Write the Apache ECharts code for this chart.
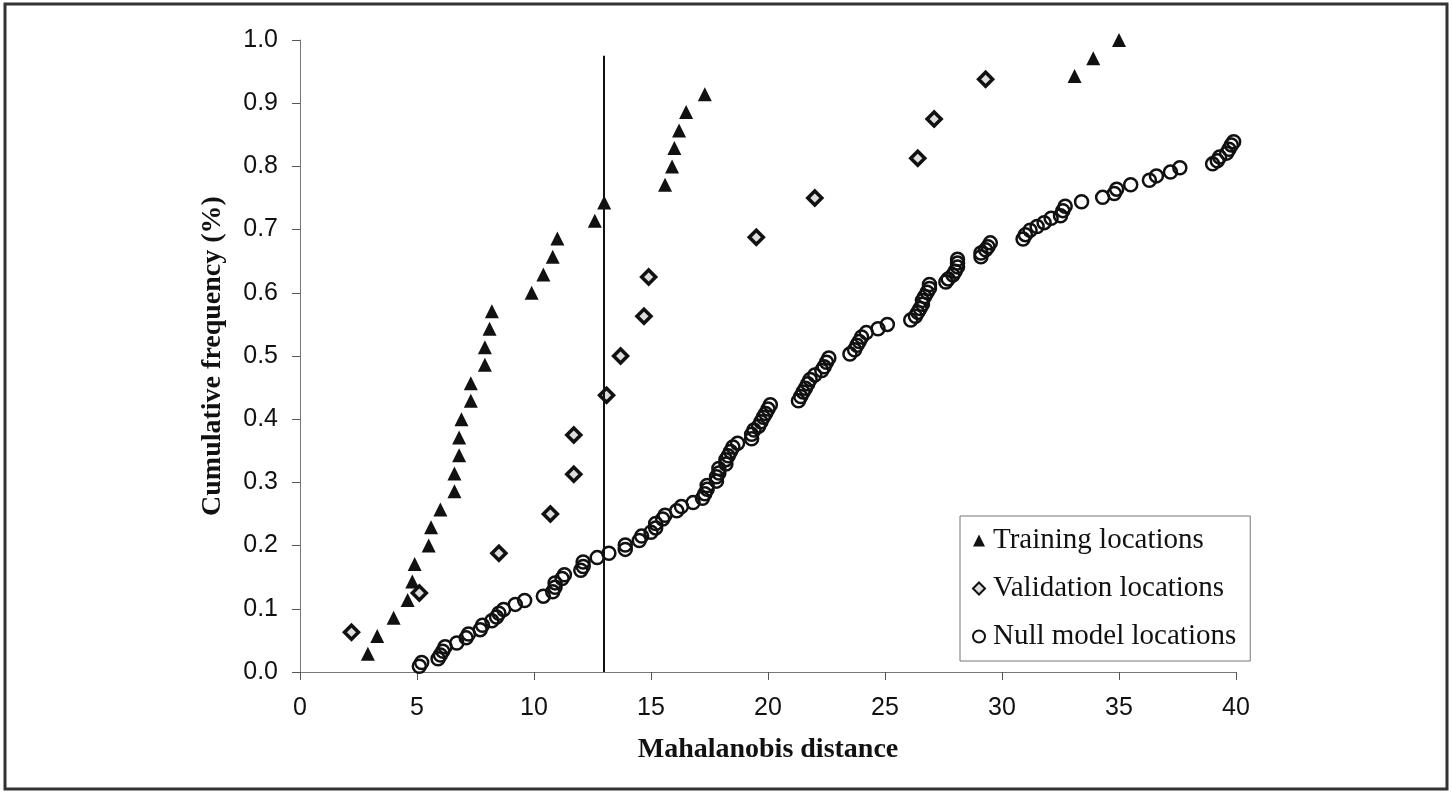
<!DOCTYPE html>
<html>
<head>
<meta charset="utf-8">
<script src="https://cdn.jsdelivr.net/npm/echarts@6/dist/echarts.min.js"></script>
<style>
  html, body { margin: 0; padding: 0; background: #fff; }
  #main { width: 1452px; height: 792px; }
</style>
</head>
<body>
<div id="main"></div>
<script>
// Training locations (triangles)
const trainingX = [2.9, 3.3, 4.0, 4.6, 4.8, 4.9, 5.5, 5.6, 6.0, 6.6, 6.6, 6.8, 6.8, 6.9, 7.3, 7.3, 7.9, 7.9, 8.1, 8.2,
  9.9, 10.4, 10.8, 11.0, 12.6, 13.0, 15.6, 15.9, 16.0, 16.2, 16.5, 17.3, 33.1, 33.9, 35.0];
const trainingY = [0.029, 0.057, 0.086, 0.114, 0.143, 0.171, 0.2, 0.229, 0.257, 0.286, 0.314, 0.343, 0.371, 0.4,
  0.429, 0.457, 0.486, 0.514, 0.543, 0.571, 0.6, 0.629, 0.657, 0.686, 0.714, 0.743, 0.771, 0.8, 0.829, 0.857,
  0.886, 0.914, 0.943, 0.971, 1.0];

// Validation locations (diamonds)
const validationX = [2.2, 5.1, 8.5, 10.7, 11.7, 11.7, 13.1, 13.7, 14.7, 14.9, 19.5, 22.0, 26.4, 27.1, 29.3];
const validationY = [0.063, 0.125, 0.188, 0.25, 0.313, 0.375, 0.438, 0.5, 0.563, 0.625, 0.688, 0.75, 0.813, 0.875, 0.938];

// Null model locations (open circles)
const nullX = [5.1, 5.2, 5.9, 6.0, 6.1, 6.2, 6.7, 7.1, 7.2, 7.7, 7.8, 8.2, 8.4, 8.5, 8.7, 9.2, 9.6, 10.4, 10.8, 10.9,
  10.9, 11.2, 11.3, 12.0, 12.1, 12.1, 12.7, 13.2, 13.9, 13.9, 14.5, 14.6, 15.0, 15.2, 15.2, 15.5, 15.6, 16.1, 16.3, 16.8,
  17.2, 17.3, 17.4, 17.4, 17.8, 17.8, 17.9, 17.9, 18.2, 18.2, 18.3, 18.4, 18.5, 18.7, 19.3, 19.3, 19.4, 19.6, 19.7, 19.8,
  19.9, 20.0, 20.1, 21.3, 21.4, 21.5, 21.6, 21.7, 21.8, 22.0, 22.3, 22.4, 22.5, 22.6, 23.5, 23.7, 23.8, 23.9, 24.0, 24.2,
  24.7, 25.1, 26.1, 26.3, 26.4, 26.5, 26.6, 26.6, 26.7, 26.8, 26.9, 26.9, 27.6, 27.7, 27.9, 28.0, 28.1, 28.1, 28.1, 29.1,
  29.1, 29.3, 29.4, 29.5, 30.9, 31.0, 31.2, 31.5, 31.8, 32.1, 32.5, 32.6, 32.7, 33.4, 34.3, 34.8, 34.9, 35.5, 36.3, 36.6,
  37.2, 37.6, 39.0, 39.2, 39.3, 39.6, 39.7, 39.8, 39.9];
const nullY = [0.009, 0.015, 0.021, 0.027, 0.033, 0.040, 0.046, 0.054, 0.060, 0.067, 0.074, 0.081, 0.087, 0.093, 0.099,
  0.107, 0.113, 0.120, 0.127, 0.134, 0.141, 0.148, 0.154, 0.161, 0.167, 0.174, 0.181, 0.188, 0.194, 0.201, 0.208, 0.215,
  0.221, 0.228, 0.235, 0.242, 0.248, 0.255, 0.262, 0.268, 0.275, 0.282, 0.289, 0.295, 0.302, 0.309, 0.315, 0.322, 0.329,
  0.336, 0.342, 0.349, 0.356, 0.362, 0.369, 0.376, 0.383, 0.389, 0.396, 0.403, 0.409, 0.416, 0.423, 0.429, 0.436, 0.443,
  0.449, 0.456, 0.463, 0.470, 0.477, 0.483, 0.490, 0.497, 0.503, 0.510, 0.517, 0.523, 0.530, 0.537, 0.543, 0.550, 0.557,
  0.563, 0.569, 0.575, 0.582, 0.588, 0.594, 0.601, 0.607, 0.613, 0.617, 0.622, 0.628, 0.634, 0.641, 0.647, 0.653, 0.657,
  0.663, 0.668, 0.673, 0.679, 0.685, 0.692, 0.699, 0.705, 0.711, 0.718, 0.722, 0.730, 0.737, 0.744, 0.751, 0.757, 0.764,
  0.771, 0.778, 0.785, 0.791, 0.798, 0.804, 0.809, 0.815, 0.821, 0.827, 0.834, 0.839];

// threshold line at Mahalanobis distance 13
const thresholdX = 13;
const thresholdTop = 0.975;

const zip = (xs, ys) => xs.map((x, i) => [x, ys[i]]);

const chart = echarts.init(document.getElementById("main"), null, { renderer: "canvas" });

const tickFont = { fontFamily: "Liberation Sans", fontSize: 25, color: "#111" };
const nameFont = { fontFamily: "Liberation Serif", fontSize: 28, fontWeight: "bold", color: "#111" };

chart.setOption({
  animation: false,
  backgroundColor: "#fff",
  graphic: [
    {
      type: "rect",
      shape: { x: 5, y: 4, width: 1442, height: 785 },
      style: { fill: "none", stroke: "#333", lineWidth: 3 },
      silent: true,
    },
  ],
  grid: { left: 300, right: 216, top: 40, bottom: 120 },
  legend: {
    left: 960,
    top: 516,
    orient: "vertical",
    padding: [10, 14, 10, 12],
    itemGap: 19,
    itemWidth: 12,
    itemHeight: 12,
    borderColor: "#777",
    borderWidth: 1,
    textStyle: { fontFamily: "Liberation Serif", fontSize: 29, color: "#111", padding: [0, 0, 0, 3] },
  },
  xAxis: {
    type: "value",
    min: 0,
    max: 40,
    interval: 5,
    name: "Mahalanobis distance",
    nameLocation: "middle",
    nameGap: 64,
    nameTextStyle: nameFont,
    axisLine: { lineStyle: { color: "#777", width: 1 } },
    axisTick: { show: true, length: 8, lineStyle: { color: "#555" } },
    axisLabel: { ...tickFont, margin: 24 },
    splitLine: { show: false },
  },
  yAxis: {
    type: "value",
    min: 0,
    max: 1,
    interval: 0.1,
    name: "Cumulative frequency (%)",
    nameLocation: "middle",
    nameGap: 73,
    nameTextStyle: nameFont,
    axisLine: { show: true, lineStyle: { color: "#777", width: 1 } },
    axisTick: { show: true, length: 8, lineStyle: { color: "#555" } },
    axisLabel: { ...tickFont, margin: 22, formatter: (v) => v.toFixed(1) },
    splitLine: { show: false },
  },
  series: [
    {
      name: "Training locations",
      type: "scatter",
      symbol: "triangle",
      symbolSize: 14,
      itemStyle: { color: "#111", opacity: 1 },
      data: zip(trainingX, trainingY),
      z: 4,
      markLine: {
        silent: true,
        symbol: "none",
        label: { show: false },
        lineStyle: { color: "#111", width: 2, type: "solid", opacity: 1 },
        data: [[{ coord: [thresholdX, 0] }, { coord: [thresholdX, thresholdTop] }]],
      },
    },
    {
      name: "Validation locations",
      type: "scatter",
      symbol: "diamond",
      symbolSize: 14,
      itemStyle: { color: "#ddd", borderColor: "#111", borderWidth: 3.5, opacity: 1 },
      data: zip(validationX, validationY),
      z: 3,
    },
    {
      name: "Null model locations",
      type: "scatter",
      symbol: "circle",
      symbolSize: 13,
      itemStyle: { color: "rgba(255,255,255,0)", borderColor: "#111", borderWidth: 2.5, opacity: 1 },
      data: zip(nullX, nullY),
      z: 2,
    },
  ],
});
</script>
</body>
</html>
